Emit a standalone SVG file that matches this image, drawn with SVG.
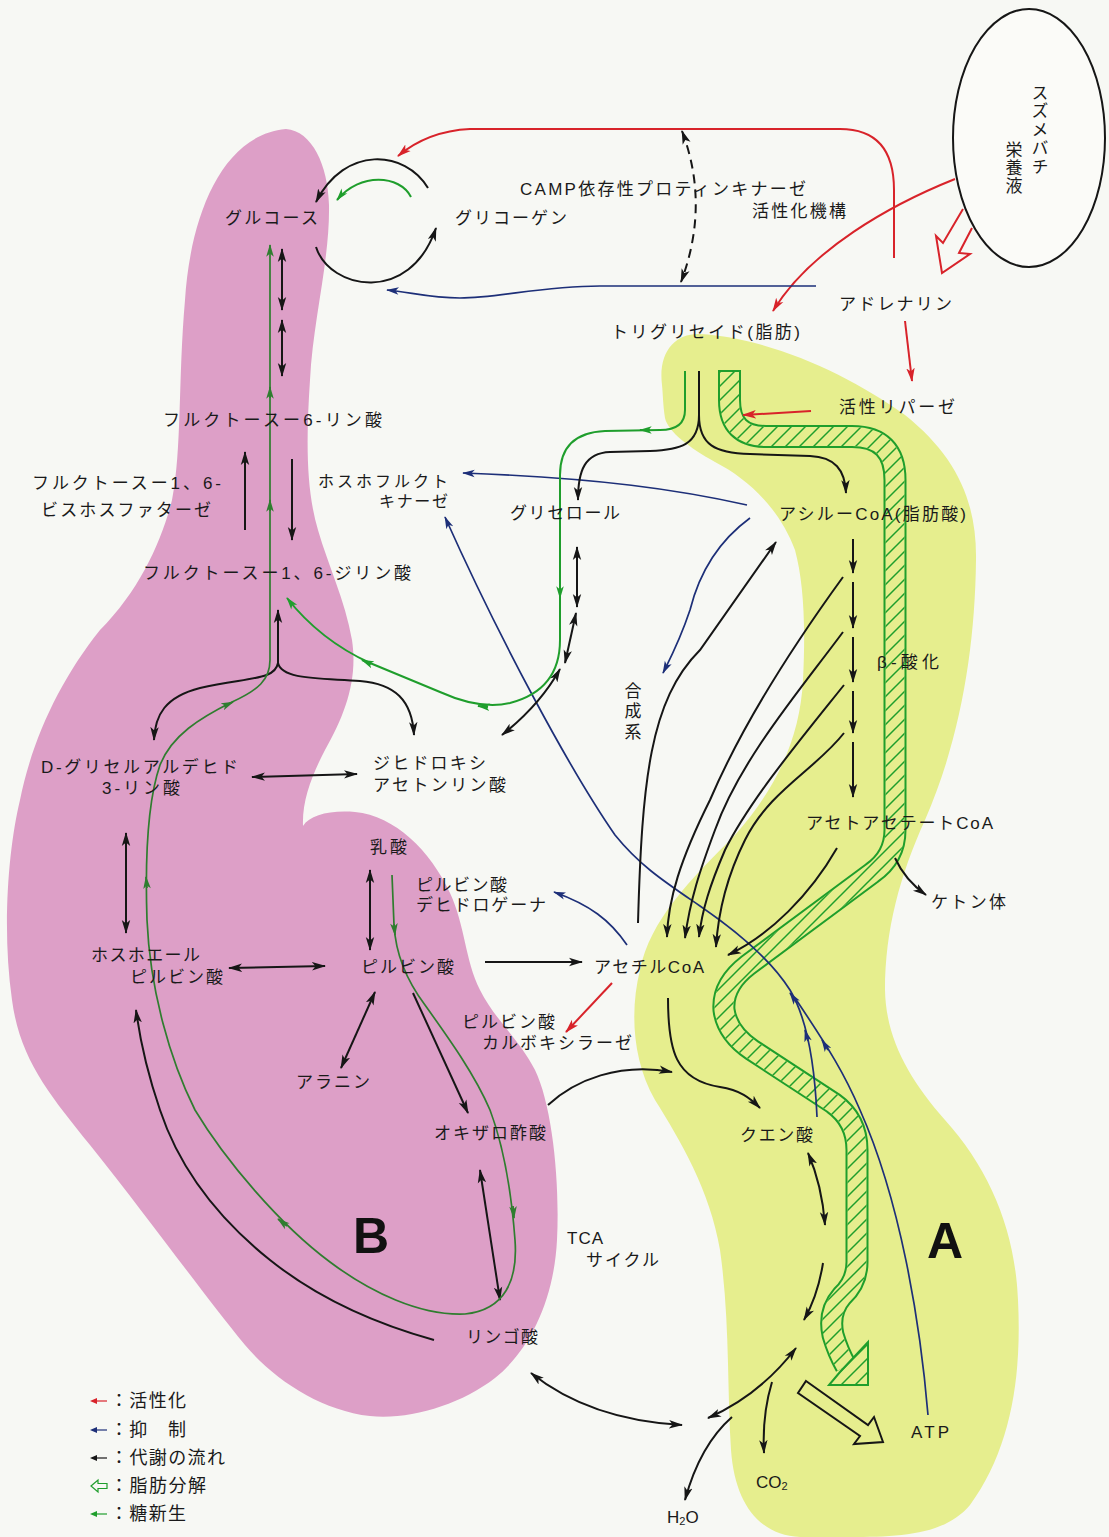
<svg xmlns="http://www.w3.org/2000/svg" width="1109" height="1537" viewBox="0 0 1109 1537">
<defs>
<style>
text{font-family:"Liberation Sans","Noto Sans CJK JP",sans-serif;font-size:17px;fill:#1a1a1a}
.big{font-family:"Liberation Sans",Arial,sans-serif;font-weight:bold;font-size:50px;fill:#111}
.lg{font-size:18px}
.sm{font-size:16px}
.vt{writing-mode:vertical-rl}
.k{stroke:#161616;stroke-width:2;fill:none}
.r{stroke:#d8232a;stroke-width:2;fill:none}
.b{stroke:#1d2f78;stroke-width:1.7;fill:none}
.g{stroke:#1f9e2c;stroke-width:2;fill:none}
.dg{stroke:#2f7d2f;stroke-width:1.7;fill:none}
.mk{marker-end:url(#mk)}
.mk2{marker-start:url(#mk);marker-end:url(#mk)}
.mr{marker-end:url(#mr)}
.mb{marker-end:url(#mb)}
.mg{marker-end:url(#mg)}
.mdg{marker-end:url(#mdg)}
</style>
<marker id="mk" viewBox="0 0 14 10" refX="13" refY="5" markerWidth="14" markerHeight="10" markerUnits="userSpaceOnUse" orient="auto-start-reverse"><path d="M0,0.8 L14,5 L0,9.2 L3.5,5 Z" fill="#161616"/></marker>
<marker id="mr" viewBox="0 0 14 10" refX="13" refY="5" markerWidth="14" markerHeight="10" markerUnits="userSpaceOnUse" orient="auto-start-reverse"><path d="M0,0.8 L14,5 L0,9.2 L3.5,5 Z" fill="#d8232a"/></marker>
<marker id="mb" viewBox="0 0 14 10" refX="13" refY="5" markerWidth="13" markerHeight="9" markerUnits="userSpaceOnUse" orient="auto-start-reverse"><path d="M0,0.8 L14,5 L0,9.2 L3.5,5 Z" fill="#1d2f78"/></marker>
<marker id="mg" viewBox="0 0 14 10" refX="13" refY="5" markerWidth="13" markerHeight="9" markerUnits="userSpaceOnUse" orient="auto-start-reverse"><path d="M0,0.8 L14,5 L0,9.2 L3.5,5 Z" fill="#1f9e2c"/></marker>
<marker id="mdg" viewBox="0 0 14 10" refX="13" refY="5" markerWidth="13" markerHeight="9" markerUnits="userSpaceOnUse" orient="auto-start-reverse"><path d="M0,0.8 L14,5 L0,9.2 L3.5,5 Z" fill="#2f7d2f"/></marker>
<pattern id="hatch" patternUnits="userSpaceOnUse" width="14" height="14"><path d="M-2,2 L2,-2 M0,14 L14,0 M12,16 L16,12" stroke="#1f9e2c" stroke-width="1.5"/></pattern>
</defs>
<rect width="1109" height="1537" fill="#f7f8f4"/>

<g id="regions">
<path id="region-B" fill="#dd9fc7" d="M 286 129 C 312 131 328 165 329 205 C 330 260 313 320 310 380 C 306 440 306 490 318 530 C 328 565 345 600 352 640 C 358 680 345 715 325 750 C 312 775 302 800 303 826 C 310 815 330 810 355 812 C 395 816 430 850 450 893 C 465 925 465 960 480 990 C 495 1020 520 1040 535 1070 C 552 1105 560 1180 557 1240 C 554 1300 530 1350 495 1378 C 460 1405 410 1420 370 1416 C 320 1410 275 1380 245 1345 C 200 1290 150 1220 90 1145 C 50 1095 20 1060 12 1000 C 2 930 8 850 20 800 C 32 740 60 680 100 630 C 140 590 162 540 172 500 C 182 450 178 380 185 300 C 190 220 220 135 286 129 Z"/>
<path id="region-A" fill="#e6ee8e" d="M 662 385 C 658 352 675 333 700 334 C 770 338 850 375 905 415 C 955 455 977 500 976 560 C 975 650 960 740 925 820 C 900 875 885 930 885 990 C 886 1040 910 1080 945 1120 C 990 1170 1015 1230 1018 1300 C 1022 1380 1010 1450 970 1505 C 945 1535 900 1537 850 1537 L 800 1537 C 760 1535 735 1505 731 1450 C 727 1390 730 1320 720 1250 C 710 1190 680 1140 655 1100 C 632 1060 630 1010 640 970 C 650 920 690 880 735 835 C 775 790 800 740 803 680 C 806 620 803 580 795 550 C 780 510 750 480 715 462 C 690 448 668 432 665 418 C 663 405 663 395 662 385 Z"/>
<text class="big" x="353" y="1253">B</text>
<text class="big" x="927" y="1258">A</text>
</g>

<g id="lipolysis-band">
<path d="M 729.5 371 L 729.5 400 Q 729.5 436.5 766 436.5 L 852 436.5 Q 895 436.5 895 480 L 895 830 Q 895 857 872 873 L 748 965 Q 722 985 724 1010 Q 727 1033 752 1050 L 833 1103 Q 857 1120 857 1150 L 857 1262 Q 857 1282 842 1296 Q 828 1312 833 1335 Q 838 1352 846 1366" fill="none" stroke="#1f9e2c" stroke-width="23"/>
<path d="M 729.5 371 L 729.5 400 Q 729.5 436.5 766 436.5 L 852 436.5 Q 895 436.5 895 480 L 895 830 Q 895 857 872 873 L 748 965 Q 722 985 724 1010 Q 727 1033 752 1050 L 833 1103 Q 857 1120 857 1150 L 857 1262 Q 857 1282 842 1296 Q 828 1312 833 1335 Q 838 1352 846 1366" fill="none" stroke="#e6ee8e" stroke-width="19"/>
<path d="M 729.5 371 L 729.5 400 Q 729.5 436.5 766 436.5 L 852 436.5 Q 895 436.5 895 480 L 895 830 Q 895 857 872 873 L 748 965 Q 722 985 724 1010 Q 727 1033 752 1050 L 833 1103 Q 857 1120 857 1150 L 857 1262 Q 857 1282 842 1296 Q 828 1312 833 1335 Q 838 1352 846 1366" fill="none" stroke="url(#hatch)" stroke-width="19"/>
<line x1="718" y1="371" x2="741" y2="371" stroke="#1f9e2c" stroke-width="2"/>
<polygon points="868,1342 868,1385 829,1385 840,1372" fill="#e6ee8e" stroke="#1f9e2c" stroke-width="2"/>
<polygon points="868,1342 868,1385 829,1385 840,1372" fill="url(#hatch)"/>
</g>

<g id="connectors">
<path class="r mr" d="M 894 258 L 894 190 Q 894 129 840 129 L 470 129 Q 428 131 398 156"/>
<path class="r mr" d="M 955 179 C 890 205 810 250 773 311"/>
<path class="r mr" d="M 905 321 L 912 381"/>
<path class="r mr" d="M 811 411 L 743 415"/>
<path class="r mr" d="M 612 983 L 566 1032"/>
<polyline class="r" points="963,209 943,243 936,236 942,273 970,254 959,253 972,228"/>
<path class="b mb" d="M 816 286 L 600 286 C 540 286 500 298 460 298 C 430 298 410 292 387 290"/>
<path class="b mb" d="M 747 505 C 680 490 600 478 463 473"/>
<path class="b mb" d="M 750 518 C 720 540 700 570 690 610 C 680 640 672 655 663 673"/>
<path class="b mb" d="M 817 1117 C 815 1070 808 1020 790 990 C 770 958 735 930 700 906 C 665 882 640 866 615 835 C 570 770 500 640 445 517"/>
<path class="b" d="M 928 1415 C 920 1320 900 1200 860 1110 C 845 1075 830 1050 795 998"/>
<path class="b mb" d="M 797 1003 L 790 993"/>
<path class="b mb" d="M 808 1041 L 805 1030"/>
<path class="b mb" d="M 828 1050 L 822 1040"/>
<path class="b mb" d="M 627 945 C 610 920 590 905 554 892"/>
<path class="k mk2" stroke-dasharray="9 6" stroke-width="1.6" d="M 682 131 Q 710 205 681 282"/>
<path class="k mk" d="M 428 188 C 405 150 345 145 316 202"/>
<path class="k mk" d="M 316 247 C 330 290 410 305 436 228"/>
<path class="g mg" d="M 411 197 C 400 175 360 172 337 200"/>
<path class="k mk2" d="M 282 249 L 282 310"/>
<path class="k mk2" d="M 282 320 L 282 376"/>
<path class="k mk" d="M 245 530 L 245 452"/>
<path class="k mk" d="M 292 459 L 292 540"/>
<path class="k mk" d="M 278 663 L 278 610"/>
<path class="k mk" d="M 278 663 C 275 680 250 677 200 688 C 165 697 155 715 154 740"/>
<path class="k mk" d="M 278 663 C 282 680 320 678 360 681 C 395 684 412 700 414 735"/>
<path class="k mk2" d="M 252 777 L 357 774"/>
<path class="k mk2" d="M 126 833 L 126 933"/>
<path class="k mk2" d="M 229 968 L 325 966"/>
<path class="k mk2" d="M 370 870 L 370 950"/>
<path class="k mk2" d="M 375 992 L 341 1068"/>
<path class="k mk" d="M 413 993 L 468 1113"/>
<path class="k mk2" d="M 480 1170 L 500 1300"/>
<path class="k mk" d="M 434 1340 C 380 1325 320 1300 270 1260 C 220 1220 180 1170 160 1110 C 148 1075 140 1040 136 1010"/>
<path class="k mk" d="M 485 962 L 582 962"/>
<path class="k mk" d="M 699 371 L 699 415 C 699 445 680 450 650 451 L 610 452 C 585 453 578 470 578 500"/>
<path class="k mk" d="M 699 415 C 699 445 715 453 750 454 L 810 456 C 835 457 845 470 846 493"/>
<path class="k mk2" d="M 577 547 L 577 607"/>
<path class="k mk2" d="M 576 613 L 565 663"/>
<path class="k mk2" d="M 560 669 Q 540 705 502 735"/>
<path class="k mk" d="M 853 539 L 853 573"/>
<path class="k mk" d="M 853 582 L 853 628"/>
<path class="k mk" d="M 853 637 L 853 682"/>
<path class="k mk" d="M 853 691 L 853 733"/>
<path class="k mk" d="M 853 742 L 853 797"/>
<path class="k mk" d="M 843 577 C 790 650 740 730 710 800 C 680 860 668 900 667 937"/>
<path class="k mk" d="M 843 632 C 800 690 740 760 715 830 C 700 870 690 900 685 938"/>
<path class="k mk" d="M 844 685 C 800 740 750 800 725 850 C 710 885 702 910 699 937"/>
<path class="k mk" d="M 844 733 C 815 770 770 790 745 840 C 725 880 718 915 716 947"/>
<path class="k mk" d="M 837 848 C 810 895 770 935 728 955"/>
<path class="k mk" d="M 895 858 Q 905 880 926 895"/>
<path class="k mk" d="M 638 923 C 642 780 650 700 700 650 L 776 542"/>
<path class="k mk" d="M 668 998 C 668 1050 675 1080 720 1087 C 740 1090 750 1098 760 1108"/>
<path class="k mk" d="M 548 1105 C 575 1080 620 1062 672 1072"/>
<path class="k mk2" d="M 808 1153 Q 822 1185 825 1225"/>
<path class="k mk" d="M 823 1263 Q 818 1295 804 1320"/>
<path class="k mk2" d="M 796 1348 Q 760 1395 708 1418"/>
<path class="k mk2" d="M 531 1373 Q 590 1420 682 1425"/>
<path class="k mk" d="M 772 1382 Q 762 1415 764 1453"/>
<path class="k mk" d="M 732 1417 Q 700 1445 685 1500"/>
<polygon class="k" points="806,1381 868,1425 874,1417 883,1442 854,1444 860,1436 798,1393"/>
<path class="dg mdg" d="M 392 875 L 394 925 C 396 960 410 985 425 1005 C 450 1040 475 1075 490 1110 C 505 1150 512 1200 515 1240 C 518 1280 505 1310 465 1314 C 420 1316 370 1292 330 1262 C 280 1225 225 1160 195 1110 C 170 1060 150 990 147 920 C 145 860 148 800 160 765 C 172 735 200 718 232 702 C 258 690 270 680 270 660 L 270 245"/>
<path class="dg mdg" d="M 394 924 L 395 935"/>
<path class="dg mdg" d="M 513 1206 L 514 1218"/>
<path class="dg mdg" d="M 287 1226 L 278 1219"/>
<path class="dg mdg" d="M 147 888 L 146 877"/>
<path class="dg mdg" d="M 224 706 L 233 702"/>
<path class="dg mdg" d="M 270 398 L 270 387"/>
<path class="dg mdg" d="M 270 511 L 270 500"/>
<path class="g mg" d="M 685 371 L 685 410 Q 685 430 660 430 L 605 431 Q 560 433 560 475 L 560 640 Q 560 690 510 703 Q 480 710 440 692 L 370 663 Q 320 640 287 598"/>
<path class="g mg" d="M 650 430 L 640 430"/>
<path class="g mg" d="M 560 587 L 560 598"/>
<path class="g mg" d="M 488 707 L 478 706"/>
<path class="g mg" d="M 371 664 L 362 660"/>
</g>

<g id="n-suzumebachi">
<ellipse cx="1029" cy="138" rx="76" ry="129" fill="#fbfbf8" stroke="#161616" stroke-width="2"/>
<text class="vt" x="1038" y="84" textLength="91">スズメバチ</text>
<text class="vt" x="1012" y="141" textLength="53">栄養液</text>
</g>
<g id="n-glucose"><text x="225" y="224" textLength="93">グルコース</text></g>
<g id="n-glycogen"><text x="455" y="224" textLength="112">グリコーゲン</text></g>
<g id="n-camp"><text x="520" y="195" textLength="286">CAMP依存性プロティンキナーゼ</text><text x="752" y="217" textLength="94">活性化機構</text></g>
<g id="n-adrenaline"><text x="839" y="310" textLength="113">アドレナリン</text></g>
<g id="n-triglyceride"><text x="611" y="338" textLength="189">トリグリセイド(脂肪)</text></g>
<g id="n-lipase"><text x="839" y="413" textLength="116">活性リパーゼ</text></g>
<g id="n-f6p"><text x="163" y="426" textLength="219">フルクトースー6-リン酸</text></g>
<g id="n-fbpase"><text x="32" y="489" textLength="189">フルクトースー1、6-</text><text x="41" y="516" textLength="170">ビスホスファターゼ</text></g>
<g id="n-pfk"><text class="sm" x="318" y="487" textLength="130">ホスホフルクト</text><text class="sm" x="379" y="507" textLength="69">キナーゼ</text></g>
<g id="n-glycerol"><text x="510" y="519" textLength="110">グリセロール</text></g>
<g id="n-acylcoa"><text x="779" y="520" textLength="187">アシルーCoA(脂肪酸)</text></g>
<g id="n-fbp"><text x="143" y="579" textLength="268">フルクトースー1、6-ジリン酸</text></g>
<g id="n-betaox"><text x="877" y="668" textLength="62">β-酸化</text></g>
<g id="n-synth"><text class="vt" x="631" y="682" textLength="58">合成系</text></g>
<g id="n-gap"><text x="41" y="773" textLength="197">D-グリセルアルデヒド</text><text x="102" y="794" textLength="78">3-リン酸</text></g>
<g id="n-dhap"><text x="373" y="769" textLength="113">ジヒドロキシ</text><text x="373" y="791" textLength="133">アセトンリン酸</text></g>
<g id="n-acetoacetyl"><text x="806" y="829" textLength="187">アセトアセテートCoA</text></g>
<g id="n-lactate"><text x="370" y="853" textLength="37">乳酸</text></g>
<g id="n-pdh"><text x="416" y="891" textLength="91">ピルビン酸</text><text x="416" y="911" textLength="130">デヒドロゲーナ</text></g>
<g id="n-ketone"><text x="931" y="908" textLength="75">ケトン体</text></g>
<g id="n-pep"><text x="91" y="961" textLength="109">ホスホエール</text><text x="130" y="983" textLength="93">ピルビン酸</text></g>
<g id="n-pyruvate"><text x="361" y="973" textLength="93">ピルビン酸</text></g>
<g id="n-acetylcoa"><text x="594" y="973" textLength="110">アセチルCoA</text></g>
<g id="n-pc"><text x="462" y="1028" textLength="93">ピルビン酸</text><text x="482" y="1049" textLength="150">カルボキシラーゼ</text></g>
<g id="n-alanine"><text x="296" y="1088" textLength="74">アラニン</text></g>
<g id="n-oaa"><text x="434" y="1139" textLength="112">オキザロ酢酸</text></g>
<g id="n-citrate"><text x="740" y="1141" textLength="73">クエン酸</text></g>
<g id="n-tca"><text x="567" y="1244" textLength="36">TCA</text><text x="586" y="1266" textLength="73">サイクル</text></g>
<g id="n-malate"><text x="466" y="1343" textLength="72">リンゴ酸</text></g>
<g id="n-atp"><text x="911" y="1438" textLength="38">ATP</text></g>
<g id="n-co2"><text x="756" y="1488">CO<tspan font-size="11" dy="2">2</tspan></text></g>
<g id="n-h2o"><text x="667" y="1523">H<tspan font-size="11" dy="2">2</tspan><tspan dy="-2">O</tspan></text></g>

<g id="legend">
<line x1="107" y1="1401" x2="95" y2="1401" stroke="#d8232a" stroke-width="1.2"/><polygon points="90,1401 97,1398 97,1404" fill="#d8232a"/>
<line x1="107" y1="1430" x2="95" y2="1430" stroke="#1d2f78" stroke-width="1.2"/><polygon points="90,1430 97,1427 97,1433" fill="#1d2f78"/>
<line x1="107" y1="1458" x2="95" y2="1458" stroke="#161616" stroke-width="1.2"/><polygon points="90,1458 97,1455 97,1461" fill="#161616"/>
<polygon points="91,1486 98,1480 98,1483.5 107,1483.5 107,1488.5 98,1488.5 98,1492" fill="none" stroke="#1f9e2c" stroke-width="1.2"/>
<line x1="107" y1="1514" x2="95" y2="1514" stroke="#1f9e2c" stroke-width="1.2"/><polygon points="90,1514 97,1511 97,1517" fill="#1f9e2c"/>
<text class="lg" x="110" y="1407" textLength="76">：活性化</text>
<text class="lg" x="110" y="1436" textLength="76">：抑　制</text>
<text class="lg" x="110" y="1464" textLength="115">：代謝の流れ</text>
<text class="lg" x="110" y="1492" textLength="96">：脂肪分解</text>
<text class="lg" x="110" y="1520" textLength="76">：糖新生</text>
</g>
</svg>
